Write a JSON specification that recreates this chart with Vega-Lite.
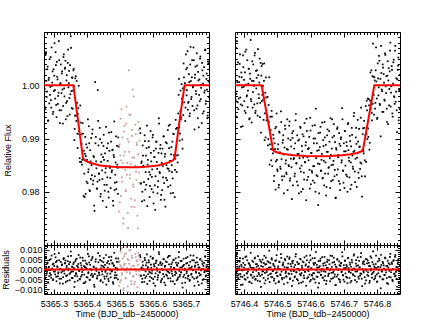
{
"$schema":"https://vega.github.io/schema/vega-lite/v6.json",
"autosize":{"type":"none"},
"padding":{"left":44,"top":32,"right":400,"bottom":295},
"config":{"view":{"stroke":"#000","strokeWidth":1},
"axis":{"domain":false,"grid":false,"tickColor":"#000","tickWidth":1,"labelFont":"Liberation Sans","labelFontSize":9,"labelColor":"#000","titleFont":"Liberation Sans","titleFontSize":9,"titleColor":"#000","titleFontWeight":"normal","labelFlush":false,"labelOverlap":false,"labelBound":false}},
"datasets":{
"LA":[
{"t":5365.271,"f":1.0023,"r":0.0023},{"t":5365.273,"f":0.9959,"r":-0.0041},{"t":5365.275,"f":1.0057,"r":0.0057},{"t":5365.277,"f":1.0008,"r":0.0008},{"t":5365.279,"f":0.9988,"r":-0.0012},{"t":5365.281,"f":1.0035,"r":0.0035},{"t":5365.283,"f":0.9934,"r":-0.0066},{"t":5365.285,"f":1.0014,"r":0.0014},{"t":5365.287,"f":1.0049,"r":0.0049},{"t":5365.289,"f":0.9997,"r":-0.0003},
{"t":5365.291,"f":0.9972,"r":-0.0028},{"t":5365.293,"f":1.0071,"r":0.0071},{"t":5365.295,"f":1.0005,"r":0.0005},{"t":5365.297,"f":0.9946,"r":-0.0054},{"t":5365.299,"f":1.003,"r":0.003},{"t":5365.301,"f":1.0018,"r":0.0018},{"t":5365.303,"f":0.9991,"r":-0.0009},{"t":5365.305,"f":1.0062,"r":0.0062},{"t":5365.307,"f":0.9963,"r":-0.0037},{"t":5365.309,"f":1.0044,"r":0.0044},
{"t":5365.311,"f":1.0011,"r":0.0011},{"t":5365.313,"f":0.998,"r":-0.002},{"t":5365.315,"f":1.0083,"r":0.0083},{"t":5365.317,"f":0.9953,"r":-0.0047},{"t":5365.319,"f":1.0002,"r":0.0002},{"t":5365.321,"f":1.0039,"r":0.0039},{"t":5365.323,"f":0.9985,"r":-0.0015},{"t":5365.325,"f":1.0026,"r":0.0026},{"t":5365.327,"f":0.9928,"r":-0.0072},{"t":5365.329,"f":1.0053,"r":0.0053},
{"t":5365.331,"f":0.9994,"r":-0.0006},{"t":5365.333,"f":1.0031,"r":0.0031},{"t":5365.335,"f":1.0046,"r":0.0046},{"t":5365.337,"f":0.9967,"r":-0.0033},{"t":5365.339,"f":1.0019,"r":0.0019},{"t":5365.341,"f":0.9942,"r":-0.0058},{"t":5365.343,"f":1.0067,"r":0.0067},{"t":5365.345,"f":1.0004,"r":0.0004},{"t":5365.347,"f":0.9976,"r":-0.0024},{"t":5365.349,"f":1.0038,"r":0.0038},
{"t":5365.351,"f":1.0092,"r":0.0092},{"t":5365.353,"f":0.9989,"r":-0.0011},{"t":5365.355,"f":1.0015,"r":0.0015},{"t":5365.357,"f":0.9956,"r":-0.0044},{"t":5365.359,"f":1.0028,"r":0.0028},{"t":5365.361,"f":0.9998,"r":0.0007},{"t":5365.363,"f":0.9918,"r":-0.0063},{"t":5365.365,"f":1.0013,"r":0.0041},{"t":5365.367,"f":0.9943,"r":-0.0019},{"t":5365.369,"f":1.0008,"r":0.0055},
{"t":5365.371,"f":0.9909,"r":-0.0035},{"t":5365.373,"f":0.9946,"r":0.0012},{"t":5365.375,"f":0.9999,"r":0.0074},{"t":5365.377,"f":0.9908,"r":-0.0008},{"t":5365.379,"f":0.9856,"r":-0.005},{"t":5365.381,"f":0.993,"r":0.0033},{"t":5365.383,"f":0.9908,"r":0.0021},{"t":5365.385,"f":0.9851,"r":-0.0027},{"t":5365.387,"f":0.9929,"r":0.006},{"t":5365.389,"f":0.9861,"r":-0.0002},
{"t":5365.391,"f":0.9877,"r":0.0017},{"t":5365.393,"f":0.979,"r":-0.0069},{"t":5365.395,"f":0.9903,"r":0.0045},{"t":5365.397,"f":0.9867,"r":0.0009},{"t":5365.399,"f":0.9819,"r":-0.0038},{"t":5365.401,"f":0.9883,"r":0.0026},{"t":5365.403,"f":0.9936,"r":0.008},{"t":5365.405,"f":0.9842,"r":-0.0014},{"t":5365.407,"f":0.9891,"r":0.0036},{"t":5365.409,"f":0.9801,"r":-0.0053},
{"t":5365.411,"f":0.9857,"r":0.0003},{"t":5365.413,"f":0.9901,"r":0.0048},{"t":5365.415,"f":0.9831,"r":-0.0022},{"t":5365.417,"f":0.9917,"r":0.0065},{"t":5365.419,"f":0.9821,"r":-0.0031},{"t":5365.421,"f":0.9865,"r":0.0013},{"t":5365.423,"f":0.9764,"r":-0.0088},{"t":5365.425,"f":1.0006,"r":0.0155},{"t":5365.427,"f":0.9903,"r":0.0052},{"t":5365.429,"f":0.9844,"r":-0.0007},
{"t":5365.431,"f":0.9806,"r":-0.0045},{"t":5365.433,"f":0.9991,"r":0.0141},{"t":5365.435,"f":0.9887,"r":0.0037},{"t":5365.437,"f":0.9834,"r":-0.0016},{"t":5365.439,"f":0.992,"r":0.007},{"t":5365.441,"f":0.9791,"r":-0.0059},{"t":5365.443,"f":0.9856,"r":0.0006},{"t":5365.445,"f":0.9892,"r":0.0043},{"t":5365.447,"f":0.9824,"r":-0.0025},{"t":5365.449,"f":0.9865,"r":0.0016},
{"t":5365.451,"f":0.9907,"r":0.0058},{"t":5365.453,"f":0.9813,"r":-0.0036},{"t":5365.455,"f":0.9872,"r":0.0024},{"t":5365.457,"f":0.9844,"r":-0.0004},{"t":5365.459,"f":0.9771,"r":-0.0077},{"t":5365.461,"f":0.9882,"r":0.0034},{"t":5365.463,"f":0.9858,"r":0.001},{"t":5365.465,"f":0.98,"r":-0.0048},{"t":5365.467,"f":0.9911,"r":0.0063},{"t":5365.469,"f":0.9848,"r":0.0001},
{"t":5365.471,"f":0.9826,"r":-0.0021},{"t":5365.473,"f":0.9894,"r":0.0047},{"t":5365.475,"f":0.9837,"r":-0.001},{"t":5365.477,"f":0.9878,"r":0.0031},{"t":5365.479,"f":0.9783,"r":-0.0064},{"t":5365.481,"f":0.9869,"r":0.0022},{"t":5365.483,"f":0.9932,"r":0.0085},{"t":5365.485,"f":0.9817,"r":-0.003},{"t":5365.487,"f":0.9855,"r":0.0008},{"t":5365.489,"f":0.9805,"r":-0.0042},
{"t":5365.491,"f":0.9886,"r":0.0039},{"t":5365.493,"f":0.9845,"r":-0.0001},{"t":5365.495,"f":0.9902,"r":0.0056},
{"t":5365.561,"f":0.9919,"r":0.0073},{"t":5365.563,"f":0.9815,"r":-0.0032},{"t":5365.565,"f":0.9854,"r":0.0007},{"t":5365.567,"f":0.9782,"r":-0.0065},{"t":5365.569,"f":0.9887,"r":0.004},{"t":5365.571,"f":0.9849,"r":0.0002},{"t":5365.573,"f":0.9818,"r":-0.0029},{"t":5365.575,"f":0.9906,"r":0.0059},{"t":5365.577,"f":0.9804,"r":-0.0043},{"t":5365.579,"f":0.9868,"r":0.0021},
{"t":5365.581,"f":0.9882,"r":0.0035},{"t":5365.583,"f":0.9773,"r":-0.0074},{"t":5365.585,"f":0.986,"r":0.0012},{"t":5365.587,"f":0.9895,"r":0.0047},{"t":5365.589,"f":0.9837,"r":-0.0011},{"t":5365.591,"f":0.9811,"r":-0.0037},{"t":5365.593,"f":0.9914,"r":0.0066},{"t":5365.595,"f":0.9857,"r":0.0009},{"t":5365.597,"f":0.9828,"r":-0.002},{"t":5365.599,"f":0.9902,"r":0.0054},
{"t":5365.601,"f":0.9799,"r":-0.0049},{"t":5365.603,"f":0.9877,"r":0.0028},{"t":5365.605,"f":0.9865,"r":0.0016},{"t":5365.607,"f":0.9766,"r":-0.0083},{"t":5365.609,"f":0.9881,"r":0.0032},{"t":5365.611,"f":0.9894,"r":0.0045},{"t":5365.613,"f":0.9843,"r":-0.0006},{"t":5365.615,"f":0.9809,"r":-0.004},{"t":5365.617,"f":0.9873,"r":0.0023},{"t":5365.619,"f":0.9928,"r":0.0078},
{"t":5365.621,"f":0.9835,"r":-0.0015},{"t":5365.623,"f":0.9888,"r":0.0038},{"t":5365.625,"f":0.9794,"r":-0.0056},{"t":5365.627,"f":0.9854,"r":0.0003},{"t":5365.629,"f":0.9881,"r":0.003},{"t":5365.631,"f":0.9827,"r":-0.0024},{"t":5365.633,"f":0.9904,"r":0.0052},{"t":5365.635,"f":0.9785,"r":-0.0067},{"t":5365.637,"f":0.9871,"r":0.0019},{"t":5365.639,"f":0.9893,"r":0.0041},
{"t":5365.641,"f":0.985,"r":-0.0003},{"t":5365.643,"f":0.9822,"r":-0.0031},{"t":5365.645,"f":0.9916,"r":0.0062},{"t":5365.647,"f":0.9843,"r":-0.0012},{"t":5365.649,"f":0.9882,"r":0.0026},{"t":5365.651,"f":0.9926,"r":0.007},{"t":5365.653,"f":0.9812,"r":-0.0045},{"t":5365.655,"f":0.987,"r":0.0013},{"t":5365.657,"f":0.985,"r":-0.0008},{"t":5365.659,"f":0.9894,"r":0.0036},
{"t":5365.661,"f":0.9798,"r":-0.0061},{"t":5365.663,"f":0.9908,"r":0.0048},{"t":5365.665,"f":0.9869,"r":0.0006},{"t":5365.667,"f":0.9841,"r":-0.0028},{"t":5365.669,"f":0.9935,"r":0.0057},{"t":5365.671,"f":0.9868,"r":-0.0019},{"t":5365.673,"f":0.992,"r":0.0024},{"t":5365.675,"f":0.9855,"r":-0.005},{"t":5365.677,"f":0.9947,"r":0.0033},{"t":5365.679,"f":1.0012,"r":0.0089},
{"t":5365.681,"f":0.9896,"r":-0.0036},{"t":5365.683,"f":0.9951,"r":0.001},{"t":5365.685,"f":0.9936,"r":-0.0014},{"t":5365.687,"f":1.0002,"r":0.0043},{"t":5365.689,"f":0.9898,"r":-0.007},{"t":5365.691,"f":0.9994,"r":0.0017},{"t":5365.693,"f":1.0041,"r":0.0055},{"t":5365.695,"f":0.9968,"r":-0.0027},{"t":5365.697,"f":1.0004,"r":0.0004},{"t":5365.699,"f":0.9958,"r":-0.0042},
{"t":5365.701,"f":1.003,"r":0.003},{"t":5365.703,"f":0.9991,"r":-0.0009},{"t":5365.705,"f":1.0064,"r":0.0064},{"t":5365.707,"f":0.9967,"r":-0.0033},{"t":5365.709,"f":1.0021,"r":0.0021},{"t":5365.711,"f":0.9942,"r":-0.0058},{"t":5365.713,"f":1.0039,"r":0.0039},{"t":5365.715,"f":1.0008,"r":0.0008},{"t":5365.717,"f":0.9978,"r":-0.0022},{"t":5365.719,"f":1.0047,"r":0.0047},
{"t":5365.721,"f":0.9996,"r":-0.0004},{"t":5365.723,"f":1.0071,"r":0.0071},{"t":5365.725,"f":0.9953,"r":-0.0047},{"t":5365.727,"f":1.0014,"r":0.0014},{"t":5365.729,"f":1.0035,"r":0.0035},{"t":5365.731,"f":0.9984,"r":-0.0016},{"t":5365.733,"f":1.006,"r":0.006},{"t":5365.735,"f":0.9962,"r":-0.0038},{"t":5365.737,"f":1.0025,"r":0.0025},{"t":5365.739,"f":0.9921,"r":-0.0079},
{"t":5365.741,"f":1.0011,"r":0.0011},{"t":5365.743,"f":1.005,"r":0.005},{"t":5365.745,"f":0.9974,"r":-0.0026},{"t":5365.747,"f":1.0001,"r":0.0001},{"t":5365.749,"f":1.0042,"r":0.0042},{"t":5365.751,"f":0.9947,"r":-0.0053},{"t":5365.753,"f":1.0018,"r":0.0018},{"t":5365.755,"f":1.0034,"r":0.0034},{"t":5365.757,"f":0.999,"r":-0.001},{"t":5365.759,"f":1.0067,"r":0.0067},
{"t":5365.761,"f":0.997,"r":-0.003},{"t":5365.763,"f":1.0022,"r":0.0022},{"t":5365.765,"f":0.9938,"r":-0.0062},{"t":5365.767,"f":1.0045,"r":0.0045},{"t":5365.769,"f":1.0007,"r":0.0007}
],
"LB":[
{"t":5365.272,"f":0.9993,"r":-0.0007},{"t":5365.274,"f":0.9955,"r":-0.0045},{"t":5365.276,"f":1.0062,"r":0.0062},{"t":5365.278,"f":0.9978,"r":-0.0022},{"t":5365.28,"f":1.003,"r":0.003},{"t":5365.282,"f":0.9933,"r":-0.0067},{"t":5365.284,"f":1.001,"r":0.001},{"t":5365.286,"f":0.9966,"r":-0.0034},{"t":5365.288,"f":0.9982,"r":-0.0018},{"t":5365.29,"f":1.0053,"r":0.0053},
{"t":5365.292,"f":0.9958,"r":-0.0042},{"t":5365.294,"f":0.9999,"r":-0.0001},{"t":5365.296,"f":1.0026,"r":0.0026},{"t":5365.298,"f":0.995,"r":-0.005},{"t":5365.3,"f":0.9989,"r":-0.0011},{"t":5365.302,"f":1.0079,"r":0.0079},{"t":5365.304,"f":0.9975,"r":-0.0025},{"t":5365.306,"f":1.0038,"r":0.0038},{"t":5365.308,"f":0.994,"r":-0.006},{"t":5365.31,"f":1.0016,"r":0.0016},
{"t":5365.312,"f":0.9965,"r":-0.0035},{"t":5365.314,"f":0.9986,"r":-0.0014},{"t":5365.316,"f":1.0047,"r":0.0047},{"t":5365.318,"f":0.9929,"r":-0.0071},{"t":5365.32,"f":1.0004,"r":0.0004},{"t":5365.322,"f":0.9953,"r":-0.0047},{"t":5365.324,"f":1.0022,"r":0.0022},{"t":5365.326,"f":0.9992,"r":-0.0008},{"t":5365.328,"f":0.9961,"r":-0.0039},{"t":5365.33,"f":1.0058,"r":0.0058},
{"t":5365.332,"f":0.9979,"r":-0.0021},{"t":5365.334,"f":1.0033,"r":0.0033},{"t":5365.336,"f":0.9936,"r":-0.0064},{"t":5365.338,"f":1.0009,"r":0.0009},{"t":5365.34,"f":0.997,"r":-0.003},{"t":5365.342,"f":1.0042,"r":0.0042},{"t":5365.344,"f":0.9996,"r":-0.0004},{"t":5365.346,"f":1.0027,"r":0.0027},{"t":5365.348,"f":0.9945,"r":-0.0055},{"t":5365.35,"f":0.9983,"r":-0.0017},
{"t":5365.352,"f":1.007,"r":0.007},{"t":5365.354,"f":0.9957,"r":-0.0043},{"t":5365.356,"f":1.0014,"r":0.0014},{"t":5365.358,"f":0.999,"r":-0.001},{"t":5365.36,"f":1.0031,"r":0.0036},{"t":5365.362,"f":0.9897,"r":-0.0089},{"t":5365.364,"f":0.9943,"r":-0.0033},{"t":5365.366,"f":1.0017,"r":0.005},{"t":5365.368,"f":0.9933,"r":-0.0024},{"t":5365.37,"f":0.9967,"r":0.0019},
{"t":5365.372,"f":0.9882,"r":-0.0057},{"t":5365.374,"f":0.9957,"r":0.0028},{"t":5365.376,"f":0.9914,"r":-0.0006},{"t":5365.378,"f":0.9863,"r":-0.0048},{"t":5365.38,"f":0.9962,"r":0.0061},{"t":5365.382,"f":0.9856,"r":-0.0036},{"t":5365.384,"f":0.989,"r":0.0008},{"t":5365.386,"f":0.986,"r":-0.0013},{"t":5365.388,"f":0.9909,"r":0.0045},{"t":5365.39,"f":0.9792,"r":-0.007},
{"t":5365.392,"f":0.9834,"r":-0.0026},{"t":5365.394,"f":0.9871,"r":0.0012},{"t":5365.396,"f":0.9796,"r":-0.0062},{"t":5365.398,"f":0.9889,"r":0.0031},{"t":5365.4,"f":0.986,"r":0.0003},{"t":5365.402,"f":0.9816,"r":-0.0041},{"t":5365.404,"f":0.9837,"r":-0.0019},{"t":5365.406,"f":0.9923,"r":0.0067},{"t":5365.408,"f":0.9803,"r":-0.0052},{"t":5365.41,"f":0.9878,"r":0.0024},
{"t":5365.412,"f":0.9824,"r":-0.003},{"t":5365.414,"f":0.985,"r":-0.0003},{"t":5365.416,"f":0.9909,"r":0.0056},{"t":5365.418,"f":0.9814,"r":-0.0038},{"t":5365.42,"f":0.9867,"r":0.0015},{"t":5365.422,"f":0.9774,"r":-0.0078},{"t":5365.424,"f":0.9829,"r":-0.0023},{"t":5365.426,"f":0.9891,"r":0.004},{"t":5365.428,"f":0.9857,"r":0.0006},{"t":5365.43,"f":0.9806,"r":-0.0045},
{"t":5365.432,"f":0.9819,"r":-0.0032},{"t":5365.434,"f":0.9933,"r":0.0083},{"t":5365.436,"f":0.9834,"r":-0.0016},{"t":5365.438,"f":0.9822,"r":-0.0028},{"t":5365.44,"f":0.9899,"r":0.0049},{"t":5365.442,"f":0.9796,"r":-0.0054},{"t":5365.444,"f":0.987,"r":0.002},{"t":5365.446,"f":0.984,"r":-0.0009},{"t":5365.448,"f":0.9783,"r":-0.0066},{"t":5365.45,"f":0.9886,"r":0.0037},
{"t":5365.452,"f":0.986,"r":0.0011},{"t":5365.454,"f":0.9802,"r":-0.0047},{"t":5365.456,"f":0.9836,"r":-0.0012},{"t":5365.458,"f":0.9922,"r":0.0074},{"t":5365.46,"f":0.9813,"r":-0.0035},{"t":5365.462,"f":0.9827,"r":-0.0021},{"t":5365.464,"f":0.9891,"r":0.0043},{"t":5365.466,"f":0.9789,"r":-0.0059},{"t":5365.468,"f":0.9877,"r":0.0029},{"t":5365.47,"f":0.9845,"r":-0.0002},
{"t":5365.472,"f":0.9807,"r":-0.004},{"t":5365.474,"f":0.9912,"r":0.0065},{"t":5365.476,"f":0.984,"r":-0.0007},{"t":5365.478,"f":0.9879,"r":0.0032},{"t":5365.48,"f":0.9774,"r":-0.0073},{"t":5365.482,"f":0.9865,"r":0.0018},{"t":5365.484,"f":0.9803,"r":-0.0044},{"t":5365.486,"f":0.9832,"r":-0.0015},{"t":5365.488,"f":0.9904,"r":0.0057},{"t":5365.49,"f":0.9818,"r":-0.0029},
{"t":5365.492,"f":0.9851,"r":0.0005},{"t":5365.494,"f":0.9796,"r":-0.005},{"t":5365.496,"f":0.9885,"r":0.0039},
{"t":5365.562,"f":0.991,"r":0.0064},{"t":5365.564,"f":0.9816,"r":-0.0031},{"t":5365.566,"f":0.9857,"r":0.001},{"t":5365.568,"f":0.98,"r":-0.0047},{"t":5365.57,"f":0.9868,"r":0.0021},{"t":5365.572,"f":0.9846,"r":-0.0001},{"t":5365.574,"f":0.9784,"r":-0.0063},{"t":5365.576,"f":0.9895,"r":0.0048},{"t":5365.578,"f":0.9837,"r":-0.001},{"t":5365.58,"f":0.9813,"r":-0.0034},
{"t":5365.582,"f":0.9924,"r":0.0077},{"t":5365.584,"f":0.9851,"r":0.0004},{"t":5365.586,"f":0.9824,"r":-0.0024},{"t":5365.588,"f":0.9884,"r":0.0036},{"t":5365.59,"f":0.979,"r":-0.0058},{"t":5365.592,"f":0.9832,"r":-0.0016},{"t":5365.594,"f":0.9873,"r":0.0025},{"t":5365.596,"f":0.9805,"r":-0.0043},{"t":5365.598,"f":0.9842,"r":-0.0006},{"t":5365.6,"f":0.9907,"r":0.0059},
{"t":5365.602,"f":0.9778,"r":-0.007},{"t":5365.604,"f":0.9865,"r":0.0016},{"t":5365.606,"f":0.9812,"r":-0.0037},{"t":5365.608,"f":0.9829,"r":-0.002},{"t":5365.61,"f":0.9894,"r":0.0045},{"t":5365.612,"f":0.9856,"r":0.0007},{"t":5365.614,"f":0.9797,"r":-0.0052},{"t":5365.616,"f":0.982,"r":-0.0029},{"t":5365.618,"f":0.9938,"r":0.0088},{"t":5365.62,"f":0.9837,"r":-0.0013},
{"t":5365.622,"f":0.9881,"r":0.0031},{"t":5365.624,"f":0.9785,"r":-0.0065},{"t":5365.626,"f":0.9872,"r":0.0022},{"t":5365.628,"f":0.9803,"r":-0.0048},{"t":5365.63,"f":0.9848,"r":-0.0003},{"t":5365.632,"f":0.9904,"r":0.0053},{"t":5365.634,"f":0.9816,"r":-0.0036},{"t":5365.636,"f":0.9866,"r":0.0014},{"t":5365.638,"f":0.9772,"r":-0.008},{"t":5365.64,"f":0.9826,"r":-0.0026},
{"t":5365.642,"f":0.9891,"r":0.0038},{"t":5365.644,"f":0.9844,"r":-0.0009},{"t":5365.646,"f":0.9809,"r":-0.0045},{"t":5365.648,"f":0.9924,"r":0.0069},{"t":5365.65,"f":0.9839,"r":-0.0017},{"t":5365.652,"f":0.9858,"r":0.0002},{"t":5365.654,"f":0.9797,"r":-0.006},{"t":5365.656,"f":0.9884,"r":0.0027},{"t":5365.658,"f":0.9837,"r":-0.0021},{"t":5365.66,"f":0.9825,"r":-0.0033},
{"t":5365.662,"f":0.9909,"r":0.005},{"t":5365.664,"f":0.9868,"r":0.0008},{"t":5365.666,"f":0.979,"r":-0.0074},{"t":5365.668,"f":0.9862,"r":-0.0012},{"t":5365.67,"f":0.9918,"r":0.0035},{"t":5365.672,"f":0.9837,"r":-0.0055},{"t":5365.674,"f":0.992,"r":0.0019},{"t":5365.676,"f":0.9869,"r":-0.0041},{"t":5365.678,"f":0.9982,"r":0.0063},{"t":5365.68,"f":0.9921,"r":-0.0007},
{"t":5365.682,"f":0.9909,"r":-0.0028},{"t":5365.684,"f":0.999,"r":0.0044},{"t":5365.686,"f":0.994,"r":-0.0015},{"t":5365.688,"f":0.9975,"r":0.0011},{"t":5365.69,"f":0.9881,"r":-0.0092},{"t":5365.692,"f":0.9944,"r":-0.0038},{"t":5365.694,"f":1.0015,"r":0.0024},{"t":5365.696,"f":0.9996,"r":-0.0004},{"t":5365.698,"f":0.9933,"r":-0.0067},{"t":5365.7,"f":1.0058,"r":0.0058},
{"t":5365.702,"f":0.9981,"r":-0.0019},{"t":5365.704,"f":1.0033,"r":0.0033},{"t":5365.706,"f":0.9954,"r":-0.0046},{"t":5365.708,"f":0.9969,"r":-0.0031},{"t":5365.71,"f":1.0006,"r":0.0006},{"t":5365.712,"f":0.9947,"r":-0.0053},{"t":5365.714,"f":1.0072,"r":0.0072},{"t":5365.716,"f":0.9974,"r":-0.0026},{"t":5365.718,"f":1.0015,"r":0.0015},{"t":5365.72,"f":0.9961,"r":-0.0039},
{"t":5365.722,"f":0.9998,"r":-0.0002},{"t":5365.724,"f":1.0047,"r":0.0047},{"t":5365.726,"f":0.9917,"r":-0.0083},{"t":5365.728,"f":1.002,"r":0.002},{"t":5365.73,"f":0.9989,"r":-0.0011},{"t":5365.732,"f":0.9956,"r":-0.0044},{"t":5365.734,"f":1.0037,"r":0.0037},{"t":5365.736,"f":0.9938,"r":-0.0062},{"t":5365.738,"f":1.0009,"r":0.0009},{"t":5365.74,"f":0.9982,"r":-0.0018},
{"t":5365.742,"f":0.997,"r":-0.003},{"t":5365.744,"f":1.0054,"r":0.0054},{"t":5365.746,"f":0.9995,"r":-0.0005},{"t":5365.748,"f":0.9929,"r":-0.0071},{"t":5365.75,"f":1.0028,"r":0.0028},{"t":5365.752,"f":1.0003,"r":0.0003},{"t":5365.754,"f":0.9951,"r":-0.0049},{"t":5365.756,"f":0.9986,"r":-0.0014},{"t":5365.758,"f":1.0066,"r":0.0066},{"t":5365.76,"f":0.9965,"r":-0.0035},
{"t":5365.762,"f":1.0012,"r":0.0012},{"t":5365.764,"f":0.9992,"r":-0.0008},{"t":5365.766,"f":0.9943,"r":-0.0057},{"t":5365.768,"f":1.0041,"r":0.0041},{"t":5365.77,"f":0.9977,"r":-0.0023}
],
"LX":[
{"t":5365.497,"f":0.9763,"r":-0.0083},{"t":5365.499,"f":0.9889,"r":0.0043},{"t":5365.501,"f":0.9868,"r":0.0022},{"t":5365.503,"f":0.9792,"r":-0.0054},{"t":5365.505,"f":0.9955,"r":0.0109},{"t":5365.507,"f":0.9819,"r":-0.0027},{"t":5365.509,"f":0.9854,"r":0.0008},{"t":5365.511,"f":0.975,"r":-0.0096},{"t":5365.513,"f":0.9913,"r":0.0067},{"t":5365.515,"f":0.9875,"r":0.0029},
{"t":5365.517,"f":0.9804,"r":-0.0042},{"t":5365.519,"f":0.9928,"r":0.0082},{"t":5365.521,"f":0.9832,"r":-0.0014},{"t":5365.523,"f":0.9899,"r":0.0053},{"t":5365.525,"f":0.9732,"r":-0.0114},{"t":5365.527,"f":1.0028,"r":0.0182},{"t":5365.529,"f":0.9944,"r":0.0098},{"t":5365.531,"f":0.9825,"r":-0.0021},{"t":5365.533,"f":0.9852,"r":0.0006},{"t":5365.535,"f":0.9772,"r":-0.0074},
{"t":5365.537,"f":0.9905,"r":0.0059},{"t":5365.539,"f":0.9992,"r":0.0146},{"t":5365.541,"f":0.9809,"r":-0.0037},{"t":5365.543,"f":0.9864,"r":0.0018},{"t":5365.545,"f":0.9784,"r":-0.0062},{"t":5365.547,"f":0.9926,"r":0.008},{"t":5365.549,"f":0.9838,"r":-0.0008},{"t":5365.551,"f":0.9892,"r":0.0046},{"t":5365.553,"f":0.9755,"r":-0.0091},{"t":5365.555,"f":0.987,"r":0.0024},
{"t":5365.557,"f":0.9916,"r":0.007},{"t":5365.559,"f":0.9817,"r":-0.0029},
{"t":5365.498,"f":0.9883,"r":0.0037},{"t":5365.5,"f":0.978,"r":-0.0066},{"t":5365.502,"f":0.9937,"r":0.0091},{"t":5365.504,"f":0.9859,"r":0.0013},{"t":5365.506,"f":0.9827,"r":-0.0019},{"t":5365.508,"f":0.9902,"r":0.0056},{"t":5365.51,"f":0.974,"r":-0.0106},{"t":5365.512,"f":0.9868,"r":0.0022},{"t":5365.514,"f":0.9924,"r":0.0078},{"t":5365.516,"f":0.9841,"r":-0.0005},
{"t":5365.518,"f":0.9801,"r":-0.0045},{"t":5365.52,"f":0.996,"r":0.0114},{"t":5365.522,"f":0.9854,"r":0.0008},{"t":5365.524,"f":0.976,"r":-0.0086},{"t":5365.526,"f":0.9894,"r":0.0048},{"t":5365.528,"f":0.9875,"r":0.0029},{"t":5365.53,"f":0.9832,"r":-0.0014},{"t":5365.532,"f":0.9945,"r":0.0099},{"t":5365.534,"f":0.9787,"r":-0.0059},{"t":5365.536,"f":0.9916,"r":0.007},
{"t":5365.538,"f":0.9864,"r":0.0018},{"t":5365.54,"f":0.9814,"r":-0.0032},{"t":5365.542,"f":0.9979,"r":0.0133},{"t":5365.544,"f":0.9771,"r":-0.0075},{"t":5365.546,"f":0.9849,"r":0.0003},{"t":5365.548,"f":0.9908,"r":0.0062},{"t":5365.55,"f":0.9822,"r":-0.0024},{"t":5365.552,"f":0.9888,"r":0.0042},{"t":5365.554,"f":0.9731,"r":-0.0115},{"t":5365.556,"f":0.9931,"r":0.0085},
{"t":5365.558,"f":0.9836,"r":-0.001},{"t":5365.56,"f":0.9896,"r":0.005}
],
"RA":[
{"t":5746.374,"f":0.9984,"r":-0.0016},{"t":5746.376,"f":1.007,"r":0.007},{"t":5746.378,"f":0.9941,"r":-0.0059},{"t":5746.38,"f":1.0006,"r":0.0006},{"t":5746.382,"f":1.0043,"r":0.0043},{"t":5746.384,"f":0.9975,"r":-0.0025},{"t":5746.386,"f":1.0016,"r":0.0016},{"t":5746.388,"f":1.0058,"r":0.0058},{"t":5746.39,"f":0.9964,"r":-0.0036},{"t":5746.392,"f":1.0024,"r":0.0024},
{"t":5746.394,"f":0.9996,"r":-0.0004},{"t":5746.396,"f":0.9923,"r":-0.0077},{"t":5746.398,"f":1.0034,"r":0.0034},{"t":5746.4,"f":1.001,"r":0.001},{"t":5746.402,"f":0.9952,"r":-0.0048},{"t":5746.404,"f":1.0063,"r":0.0063},{"t":5746.406,"f":1.0001,"r":0.0001},{"t":5746.408,"f":0.9979,"r":-0.0021},{"t":5746.41,"f":1.0047,"r":0.0047},{"t":5746.412,"f":0.999,"r":-0.001},
{"t":5746.414,"f":1.0031,"r":0.0031},{"t":5746.416,"f":0.9936,"r":-0.0064},{"t":5746.418,"f":1.0022,"r":0.0022},{"t":5746.42,"f":1.0085,"r":0.0085},{"t":5746.422,"f":0.997,"r":-0.003},{"t":5746.424,"f":1.0008,"r":0.0008},{"t":5746.426,"f":0.9958,"r":-0.0042},{"t":5746.428,"f":1.0039,"r":0.0039},{"t":5746.43,"f":0.9999,"r":-0.0001},{"t":5746.432,"f":1.0056,"r":0.0056},
{"t":5746.434,"f":0.9948,"r":-0.0052},{"t":5746.436,"f":1.0027,"r":0.0027},{"t":5746.438,"f":1.0014,"r":0.0014},{"t":5746.44,"f":0.9966,"r":-0.0034},{"t":5746.442,"f":1.0068,"r":0.0068},{"t":5746.444,"f":0.9983,"r":-0.0017},{"t":5746.446,"f":1.0005,"r":0.0005},{"t":5746.448,"f":0.994,"r":-0.006},{"t":5746.45,"f":1.0042,"r":0.0042},{"t":5746.452,"f":1.0018,"r":0.0018},
{"t":5746.454,"f":0.997,"r":-0.0026},{"t":5746.456,"f":1.004,"r":0.0051},{"t":5746.458,"f":0.9973,"r":-0.0009},{"t":5746.46,"f":1.0008,"r":0.0033},{"t":5746.462,"f":0.9897,"r":-0.0071},{"t":5746.464,"f":0.9986,"r":0.0025},{"t":5746.466,"f":1.0015,"r":0.0061},{"t":5746.468,"f":0.9934,"r":-0.0013},{"t":5746.47,"f":0.9944,"r":0.0004},{"t":5746.472,"f":0.9887,"r":-0.0046},
{"t":5746.474,"f":0.9963,"r":0.0037},{"t":5746.476,"f":1.0015,"r":0.0096},{"t":5746.478,"f":0.9889,"r":-0.0023},{"t":5746.48,"f":0.9916,"r":0.0011},{"t":5746.482,"f":0.9859,"r":-0.0039},{"t":5746.484,"f":0.9941,"r":0.005},{"t":5746.486,"f":0.9879,"r":-0.0005},{"t":5746.488,"f":0.9907,"r":0.0029},{"t":5746.49,"f":0.982,"r":-0.0057},{"t":5746.492,"f":0.9891,"r":0.0015},
{"t":5746.494,"f":0.9919,"r":0.0044},{"t":5746.496,"f":0.9857,"r":-0.0018},{"t":5746.498,"f":0.9947,"r":0.0073},{"t":5746.5,"f":0.9842,"r":-0.0032},{"t":5746.502,"f":0.988,"r":0.0007},{"t":5746.504,"f":0.9808,"r":-0.0065},{"t":5746.506,"f":0.9913,"r":0.004},{"t":5746.508,"f":0.9874,"r":0.0002},{"t":5746.51,"f":0.9843,"r":-0.0029},{"t":5746.512,"f":0.9931,"r":0.0059},
{"t":5746.514,"f":0.9829,"r":-0.0043},{"t":5746.516,"f":0.9892,"r":0.0021},{"t":5746.518,"f":0.9906,"r":0.0035},{"t":5746.52,"f":0.9797,"r":-0.0074},{"t":5746.522,"f":0.9883,"r":0.0012},{"t":5746.524,"f":0.9918,"r":0.0047},{"t":5746.526,"f":0.9859,"r":-0.0011},{"t":5746.528,"f":0.9833,"r":-0.0037},{"t":5746.53,"f":0.9936,"r":0.0066},{"t":5746.532,"f":0.9879,"r":0.0009},
{"t":5746.534,"f":0.985,"r":-0.002},{"t":5746.536,"f":0.9924,"r":0.0054},{"t":5746.538,"f":0.9821,"r":-0.0049},{"t":5746.54,"f":0.9897,"r":0.0028},{"t":5746.542,"f":0.9885,"r":0.0016},{"t":5746.544,"f":0.9786,"r":-0.0083},{"t":5746.546,"f":0.9901,"r":0.0032},{"t":5746.548,"f":0.9914,"r":0.0045},{"t":5746.55,"f":0.9863,"r":-0.0006},{"t":5746.552,"f":0.9829,"r":-0.004},
{"t":5746.554,"f":0.9891,"r":0.0023},{"t":5746.556,"f":0.9946,"r":0.0078},{"t":5746.558,"f":0.9853,"r":-0.0015},{"t":5746.56,"f":0.9906,"r":0.0038},{"t":5746.562,"f":0.9812,"r":-0.0056},{"t":5746.564,"f":0.9871,"r":0.0003},{"t":5746.566,"f":0.9898,"r":0.003},{"t":5746.568,"f":0.9844,"r":-0.0024},{"t":5746.57,"f":0.992,"r":0.0052},{"t":5746.572,"f":0.98,"r":-0.0067},
{"t":5746.574,"f":0.9886,"r":0.0019},{"t":5746.576,"f":0.9908,"r":0.0041},{"t":5746.578,"f":0.9864,"r":-0.0003},{"t":5746.58,"f":0.9836,"r":-0.0031},{"t":5746.582,"f":0.9929,"r":0.0062},{"t":5746.584,"f":0.9855,"r":-0.0012},{"t":5746.586,"f":0.9893,"r":0.0026},{"t":5746.588,"f":0.9937,"r":0.007},{"t":5746.59,"f":0.9822,"r":-0.0045},{"t":5746.592,"f":0.988,"r":0.0013},
{"t":5746.594,"f":0.9859,"r":-0.0008},{"t":5746.596,"f":0.9903,"r":0.0036},{"t":5746.598,"f":0.9806,"r":-0.0061},{"t":5746.6,"f":0.9915,"r":0.0048},{"t":5746.602,"f":0.9873,"r":0.0006},{"t":5746.604,"f":0.9839,"r":-0.0028},{"t":5746.606,"f":0.9924,"r":0.0057},{"t":5746.608,"f":0.9848,"r":-0.0019},{"t":5746.61,"f":0.9891,"r":0.0024},{"t":5746.612,"f":0.9817,"r":-0.005},
{"t":5746.614,"f":0.99,"r":0.0033},{"t":5746.616,"f":0.9956,"r":0.0089},{"t":5746.618,"f":0.9831,"r":-0.0036},{"t":5746.62,"f":0.9877,"r":0.001},{"t":5746.622,"f":0.9853,"r":-0.0014},{"t":5746.624,"f":0.991,"r":0.0043},{"t":5746.626,"f":0.9797,"r":-0.007},{"t":5746.628,"f":0.9884,"r":0.0017},{"t":5746.63,"f":0.9922,"r":0.0055},{"t":5746.632,"f":0.984,"r":-0.0027},
{"t":5746.634,"f":0.9871,"r":0.0004},{"t":5746.636,"f":0.9825,"r":-0.0042},{"t":5746.638,"f":0.9897,"r":0.003},{"t":5746.64,"f":0.9858,"r":-0.0009},{"t":5746.642,"f":0.9931,"r":0.0064},{"t":5746.644,"f":0.9834,"r":-0.0033},{"t":5746.646,"f":0.9888,"r":0.0021},{"t":5746.648,"f":0.9809,"r":-0.0058},{"t":5746.65,"f":0.9906,"r":0.0039},{"t":5746.652,"f":0.9875,"r":0.0008},
{"t":5746.654,"f":0.9845,"r":-0.0022},{"t":5746.656,"f":0.9914,"r":0.0047},{"t":5746.658,"f":0.9863,"r":-0.0004},{"t":5746.66,"f":0.9938,"r":0.0071},{"t":5746.662,"f":0.982,"r":-0.0047},{"t":5746.664,"f":0.9881,"r":0.0014},{"t":5746.666,"f":0.9902,"r":0.0035},{"t":5746.668,"f":0.9851,"r":-0.0016},{"t":5746.67,"f":0.9927,"r":0.006},{"t":5746.672,"f":0.9829,"r":-0.0038},
{"t":5746.674,"f":0.9893,"r":0.0025},{"t":5746.676,"f":0.9789,"r":-0.0079},{"t":5746.678,"f":0.9879,"r":0.0011},{"t":5746.68,"f":0.9918,"r":0.005},{"t":5746.682,"f":0.9842,"r":-0.0026},{"t":5746.684,"f":0.9869,"r":0.0001},{"t":5746.686,"f":0.991,"r":0.0042},{"t":5746.688,"f":0.9815,"r":-0.0053},{"t":5746.69,"f":0.9886,"r":0.0018},{"t":5746.692,"f":0.9902,"r":0.0034},
{"t":5746.694,"f":0.9859,"r":-0.001},{"t":5746.696,"f":0.9936,"r":0.0067},{"t":5746.698,"f":0.9839,"r":-0.003},{"t":5746.7,"f":0.9891,"r":0.0022},{"t":5746.702,"f":0.9807,"r":-0.0062},{"t":5746.704,"f":0.9914,"r":0.0045},{"t":5746.706,"f":0.9876,"r":0.0007},{"t":5746.708,"f":0.9893,"r":0.0023},{"t":5746.71,"f":0.9829,"r":-0.0041},{"t":5746.712,"f":0.9927,"r":0.0057},
{"t":5746.714,"f":0.9878,"r":0.0008},{"t":5746.716,"f":0.9858,"r":-0.0012},{"t":5746.718,"f":0.9905,"r":0.0035},{"t":5746.72,"f":0.9805,"r":-0.0066},{"t":5746.722,"f":0.9885,"r":0.0014},{"t":5746.724,"f":0.992,"r":0.0049},{"t":5746.726,"f":0.9868,"r":-0.0003},{"t":5746.728,"f":0.9843,"r":-0.0028},{"t":5746.73,"f":0.9942,"r":0.0071},{"t":5746.732,"f":0.9877,"r":0.0005},
{"t":5746.734,"f":0.9818,"r":-0.0054},{"t":5746.736,"f":0.9902,"r":0.003},{"t":5746.738,"f":0.989,"r":0.0018},{"t":5746.74,"f":0.9864,"r":-0.0009},{"t":5746.742,"f":0.9935,"r":0.0062},{"t":5746.744,"f":0.9836,"r":-0.0037},{"t":5746.746,"f":0.9918,"r":0.0044},{"t":5746.748,"f":0.9885,"r":0.0011},{"t":5746.75,"f":0.9855,"r":-0.002},{"t":5746.752,"f":0.9958,"r":0.0083},
{"t":5746.754,"f":0.9829,"r":-0.0047},{"t":5746.756,"f":0.9879,"r":0.0002},{"t":5746.758,"f":0.9919,"r":0.0039},{"t":5746.76,"f":0.9872,"r":-0.0015},{"t":5746.762,"f":0.992,"r":0.0026},{"t":5746.764,"f":0.9829,"r":-0.0072},{"t":5746.766,"f":0.9961,"r":0.0053},{"t":5746.768,"f":0.9909,"r":-0.0006},{"t":5746.77,"f":0.9953,"r":0.0031},{"t":5746.772,"f":0.9975,"r":0.0046},
{"t":5746.774,"f":0.9903,"r":-0.0033},{"t":5746.776,"f":0.9962,"r":0.0019},{"t":5746.778,"f":0.9892,"r":-0.0058},{"t":5746.78,"f":1.0024,"r":0.0067},{"t":5746.782,"f":0.9968,"r":0.0004},{"t":5746.784,"f":0.9948,"r":-0.0024},{"t":5746.786,"f":1.0017,"r":0.0038},{"t":5746.788,"f":1.0078,"r":0.0092},{"t":5746.79,"f":0.9982,"r":-0.0011},{"t":5746.792,"f":1.0015,"r":0.0015},
{"t":5746.794,"f":0.9956,"r":-0.0044},{"t":5746.796,"f":1.0028,"r":0.0028},{"t":5746.798,"f":1.0007,"r":0.0007},{"t":5746.8,"f":0.9937,"r":-0.0063},{"t":5746.802,"f":1.0041,"r":0.0041},{"t":5746.804,"f":0.9981,"r":-0.0019},{"t":5746.806,"f":1.0055,"r":0.0055},{"t":5746.808,"f":0.9965,"r":-0.0035},{"t":5746.81,"f":1.0012,"r":0.0012},{"t":5746.812,"f":1.0074,"r":0.0074},
{"t":5746.814,"f":0.9992,"r":-0.0008},{"t":5746.816,"f":0.995,"r":-0.005},{"t":5746.818,"f":1.0033,"r":0.0033},{"t":5746.82,"f":1.0021,"r":0.0021},{"t":5746.822,"f":0.9973,"r":-0.0027},{"t":5746.824,"f":1.006,"r":0.006},{"t":5746.826,"f":0.9998,"r":-0.0002},{"t":5746.828,"f":1.0017,"r":0.0017},{"t":5746.83,"f":0.9931,"r":-0.0069},{"t":5746.832,"f":1.0045,"r":0.0045},
{"t":5746.834,"f":1.0009,"r":0.0009},{"t":5746.836,"f":0.9962,"r":-0.0038},{"t":5746.838,"f":1.0026,"r":0.0026},{"t":5746.84,"f":1.008,"r":0.008},{"t":5746.842,"f":0.9986,"r":-0.0014},{"t":5746.844,"f":1.0036,"r":0.0036},{"t":5746.846,"f":0.9947,"r":-0.0053},{"t":5746.848,"f":1.0003,"r":0.0003},{"t":5746.85,"f":1.0048,"r":0.0048},{"t":5746.852,"f":0.9978,"r":-0.0022},
{"t":5746.854,"f":1.0065,"r":0.0065},{"t":5746.856,"f":0.9969,"r":-0.0031},{"t":5746.858,"f":1.0013,"r":0.0013},{"t":5746.86,"f":0.9912,"r":-0.0088},{"t":5746.862,"f":1.0029,"r":0.0029},{"t":5746.864,"f":1.0052,"r":0.0052},{"t":5746.866,"f":0.9993,"r":-0.0007},{"t":5746.868,"f":0.9955,"r":-0.0045}
],
"RB":[
{"t":5746.375,"f":0.9972,"r":-0.0028},{"t":5746.377,"f":0.9984,"r":-0.0016},{"t":5746.379,"f":1.0083,"r":0.0083},{"t":5746.381,"f":0.9968,"r":-0.0032},{"t":5746.383,"f":0.9955,"r":-0.0045},{"t":5746.385,"f":1.0006,"r":0.0006},{"t":5746.387,"f":1.004,"r":0.004},{"t":5746.389,"f":0.9977,"r":-0.0023},{"t":5746.391,"f":0.9922,"r":-0.0078},{"t":5746.393,"f":1.0015,"r":0.0015},
{"t":5746.395,"f":0.9962,"r":-0.0038},{"t":5746.397,"f":1.0056,"r":0.0056},{"t":5746.399,"f":0.9997,"r":-0.0003},{"t":5746.401,"f":0.997,"r":-0.003},{"t":5746.403,"f":1.0024,"r":0.0024},{"t":5746.405,"f":0.9948,"r":-0.0052},{"t":5746.407,"f":1.0067,"r":0.0067},{"t":5746.409,"f":0.9981,"r":-0.0019},{"t":5746.411,"f":0.9959,"r":-0.0041},{"t":5746.413,"f":1.0003,"r":0.0003},
{"t":5746.415,"f":1.0031,"r":0.0031},{"t":5746.417,"f":0.9938,"r":-0.0062},{"t":5746.419,"f":1.0012,"r":0.0012},{"t":5746.421,"f":0.9974,"r":-0.0026},{"t":5746.423,"f":0.993,"r":-0.007},{"t":5746.425,"f":1.0045,"r":0.0045},{"t":5746.427,"f":0.9987,"r":-0.0013},{"t":5746.429,"f":1.0008,"r":0.0008},{"t":5746.431,"f":0.9964,"r":-0.0036},{"t":5746.433,"f":1.0061,"r":0.0061},
{"t":5746.435,"f":0.9952,"r":-0.0048},{"t":5746.437,"f":0.9994,"r":-0.0006},{"t":5746.439,"f":1.0028,"r":0.0028},{"t":5746.441,"f":0.9943,"r":-0.0057},{"t":5746.443,"f":1.0019,"r":0.0019},{"t":5746.445,"f":0.9976,"r":-0.0024},{"t":5746.447,"f":1.005,"r":0.005},{"t":5746.449,"f":0.9967,"r":-0.0033},{"t":5746.451,"f":0.9911,"r":-0.0089},{"t":5746.453,"f":1.0036,"r":0.0036},
{"t":5746.455,"f":0.9982,"r":-0.001},{"t":5746.457,"f":0.9999,"r":0.0014},{"t":5746.459,"f":0.9935,"r":-0.0043},{"t":5746.461,"f":1.0041,"r":0.007},{"t":5746.463,"f":0.9947,"r":-0.0017},{"t":5746.465,"f":0.9902,"r":-0.0055},{"t":5746.467,"f":0.9977,"r":0.0027},{"t":5746.469,"f":0.9939,"r":-0.0004},{"t":5746.471,"f":0.9978,"r":0.0042},{"t":5746.473,"f":0.9899,"r":-0.003},
{"t":5746.475,"f":0.9931,"r":0.0009},{"t":5746.477,"f":0.9851,"r":-0.0064},{"t":5746.479,"f":0.9941,"r":0.0033},{"t":5746.481,"f":0.988,"r":-0.0021},{"t":5746.483,"f":0.9952,"r":0.0058},{"t":5746.485,"f":0.9848,"r":-0.0039},{"t":5746.487,"f":0.9872,"r":-0.0008},{"t":5746.489,"f":0.99,"r":0.0022},{"t":5746.491,"f":0.983,"r":-0.0047},{"t":5746.493,"f":0.988,"r":0.0004},
{"t":5746.495,"f":0.9804,"r":-0.0071},{"t":5746.497,"f":0.9922,"r":0.0047},{"t":5746.499,"f":0.986,"r":-0.0014},{"t":5746.501,"f":0.9839,"r":-0.0035},{"t":5746.503,"f":0.9889,"r":0.0016},{"t":5746.505,"f":0.9813,"r":-0.006},{"t":5746.507,"f":0.9911,"r":0.0038},{"t":5746.509,"f":0.9847,"r":-0.0025},{"t":5746.511,"f":0.9951,"r":0.0079},{"t":5746.513,"f":0.9861,"r":-0.0011},
{"t":5746.515,"f":0.9822,"r":-0.005},{"t":5746.517,"f":0.9897,"r":0.0026},{"t":5746.519,"f":0.987,"r":-0.0001},{"t":5746.521,"f":0.9829,"r":-0.0042},{"t":5746.523,"f":0.9924,"r":0.0053},{"t":5746.525,"f":0.9853,"r":-0.0018},{"t":5746.527,"f":0.9836,"r":-0.0034},{"t":5746.529,"f":0.988,"r":0.001},{"t":5746.531,"f":0.9803,"r":-0.0067},{"t":5746.533,"f":0.99,"r":0.003},
{"t":5746.535,"f":0.9848,"r":-0.0022},{"t":5746.537,"f":0.9932,"r":0.0062},{"t":5746.539,"f":0.9825,"r":-0.0045},{"t":5746.541,"f":0.9862,"r":-0.0007},{"t":5746.543,"f":0.9846,"r":-0.0023},{"t":5746.545,"f":0.991,"r":0.0041},{"t":5746.547,"f":0.9812,"r":-0.0057},{"t":5746.549,"f":0.9861,"r":-0.0008},{"t":5746.551,"f":0.9881,"r":0.0012},{"t":5746.553,"f":0.9834,"r":-0.0035},
{"t":5746.555,"f":0.9934,"r":0.0066},{"t":5746.557,"f":0.9854,"r":-0.0014},{"t":5746.559,"f":0.9819,"r":-0.0049},{"t":5746.561,"f":0.9871,"r":0.0003},{"t":5746.563,"f":0.9896,"r":0.0028},{"t":5746.565,"f":0.9797,"r":-0.0071},{"t":5746.567,"f":0.9863,"r":-0.0005},{"t":5746.569,"f":0.9922,"r":0.0054},{"t":5746.571,"f":0.9838,"r":-0.003},{"t":5746.573,"f":0.9849,"r":-0.0018},
{"t":5746.575,"f":0.9876,"r":0.0009},{"t":5746.577,"f":0.9805,"r":-0.0062},{"t":5746.579,"f":0.9904,"r":0.0037},{"t":5746.581,"f":0.9823,"r":-0.0044},{"t":5746.583,"f":0.9856,"r":-0.0011},{"t":5746.585,"f":0.9887,"r":0.002},{"t":5746.587,"f":0.9784,"r":-0.0083},{"t":5746.589,"f":0.9914,"r":0.0047},{"t":5746.591,"f":0.9865,"r":-0.0002},{"t":5746.593,"f":0.9828,"r":-0.0039},
{"t":5746.595,"f":0.9882,"r":0.0015},{"t":5746.597,"f":0.9841,"r":-0.0026},{"t":5746.599,"f":0.9939,"r":0.0072},{"t":5746.601,"f":0.9814,"r":-0.0053},{"t":5746.603,"f":0.9873,"r":0.0006},{"t":5746.605,"f":0.9836,"r":-0.0031},{"t":5746.607,"f":0.9821,"r":-0.0046},{"t":5746.609,"f":0.99,"r":0.0033},{"t":5746.611,"f":0.9848,"r":-0.0019},{"t":5746.613,"f":0.9925,"r":0.0058},
{"t":5746.615,"f":0.98,"r":-0.0067},{"t":5746.617,"f":0.9863,"r":-0.0004},{"t":5746.619,"f":0.9891,"r":0.0024},{"t":5746.621,"f":0.9829,"r":-0.0038},{"t":5746.623,"f":0.9775,"r":-0.0092},{"t":5746.625,"f":0.9878,"r":0.0011},{"t":5746.627,"f":0.9852,"r":-0.0015},{"t":5746.629,"f":0.9911,"r":0.0044},{"t":5746.631,"f":0.9839,"r":-0.0028},{"t":5746.633,"f":0.986,"r":-0.0007},
{"t":5746.635,"f":0.993,"r":0.0063},{"t":5746.637,"f":0.9826,"r":-0.0041},{"t":5746.639,"f":0.9886,"r":0.0019},{"t":5746.641,"f":0.9812,"r":-0.0055},{"t":5746.643,"f":0.9902,"r":0.0035},{"t":5746.645,"f":0.9855,"r":-0.0012},{"t":5746.647,"f":0.9793,"r":-0.0074},{"t":5746.649,"f":0.9875,"r":0.0008},{"t":5746.651,"f":0.9917,"r":0.005},{"t":5746.653,"f":0.9834,"r":-0.0033},
{"t":5746.655,"f":0.9846,"r":-0.0021},{"t":5746.657,"f":0.9894,"r":0.0027},{"t":5746.659,"f":0.9807,"r":-0.006},{"t":5746.661,"f":0.9869,"r":0.0002},{"t":5746.663,"f":0.985,"r":-0.0017},{"t":5746.665,"f":0.9936,"r":0.0069},{"t":5746.667,"f":0.9822,"r":-0.0045},{"t":5746.669,"f":0.9858,"r":-0.0009},{"t":5746.671,"f":0.9905,"r":0.0038},{"t":5746.673,"f":0.9841,"r":-0.0026},
{"t":5746.675,"f":0.9788,"r":-0.008},{"t":5746.677,"f":0.9882,"r":0.0014},{"t":5746.679,"f":0.9832,"r":-0.0036},{"t":5746.681,"f":0.9921,"r":0.0053},{"t":5746.683,"f":0.9865,"r":-0.0003},{"t":5746.685,"f":0.982,"r":-0.0048},{"t":5746.687,"f":0.989,"r":0.0022},{"t":5746.689,"f":0.9803,"r":-0.0065},{"t":5746.691,"f":0.9899,"r":0.0031},{"t":5746.693,"f":0.9855,"r":-0.0013},
{"t":5746.695,"f":0.9957,"r":0.0088},{"t":5746.697,"f":0.984,"r":-0.0029},{"t":5746.699,"f":0.9817,"r":-0.0052},{"t":5746.701,"f":0.9876,"r":0.0007},{"t":5746.703,"f":0.9914,"r":0.0045},{"t":5746.705,"f":0.9849,"r":-0.002},{"t":5746.707,"f":0.9832,"r":-0.0037},{"t":5746.709,"f":0.9886,"r":0.0016},{"t":5746.711,"f":0.98,"r":-0.007},{"t":5746.713,"f":0.9929,"r":0.0059},
{"t":5746.715,"f":0.9864,"r":-0.0006},{"t":5746.717,"f":0.9827,"r":-0.0043},{"t":5746.719,"f":0.9895,"r":0.0025},{"t":5746.721,"f":0.9855,"r":-0.0016},{"t":5746.723,"f":0.9813,"r":-0.0058},{"t":5746.725,"f":0.9907,"r":0.0036},{"t":5746.727,"f":0.9847,"r":-0.0024},{"t":5746.729,"f":0.9875,"r":0.0004},{"t":5746.731,"f":0.9948,"r":0.0077},{"t":5746.733,"f":0.9838,"r":-0.0034},
{"t":5746.735,"f":0.9862,"r":-0.001},{"t":5746.737,"f":0.992,"r":0.0048},{"t":5746.739,"f":0.9809,"r":-0.0063},{"t":5746.741,"f":0.9872,"r":-0.0001},{"t":5746.743,"f":0.9894,"r":0.0021},{"t":5746.745,"f":0.9826,"r":-0.0047},{"t":5746.747,"f":0.9884,"r":0.001},{"t":5746.749,"f":0.9843,"r":-0.0031},{"t":5746.751,"f":0.9939,"r":0.0064},{"t":5746.753,"f":0.9853,"r":-0.0022},
{"t":5746.755,"f":0.9791,"r":-0.0085},{"t":5746.757,"f":0.9908,"r":0.003},{"t":5746.759,"f":0.9876,"r":-0.0008},{"t":5746.761,"f":0.9933,"r":0.0042},{"t":5746.763,"f":0.9859,"r":-0.0039},{"t":5746.765,"f":0.9906,"r":0.0001},{"t":5746.767,"f":0.9856,"r":-0.0056},{"t":5746.769,"f":0.9971,"r":0.0052},{"t":5746.771,"f":0.9899,"r":-0.0027},{"t":5746.773,"f":0.9919,"r":-0.0014},
{"t":5746.775,"f":0.9974,"r":0.0034},{"t":5746.777,"f":0.9879,"r":-0.0068},{"t":5746.779,"f":0.9971,"r":0.0017},{"t":5746.781,"f":0.9956,"r":-0.0005},{"t":5746.783,"f":1.0028,"r":0.006},{"t":5746.785,"f":0.9934,"r":-0.0042},{"t":5746.787,"f":0.9965,"r":-0.0018},{"t":5746.789,"f":1.0016,"r":0.0026},{"t":5746.791,"f":0.9945,"r":-0.0051},{"t":5746.793,"f":1.0009,"r":0.0009},
{"t":5746.795,"f":0.9967,"r":-0.0033},{"t":5746.797,"f":1.0071,"r":0.0071},{"t":5746.799,"f":0.9975,"r":-0.0025},{"t":5746.801,"f":0.9939,"r":-0.0061},{"t":5746.803,"f":1.0013,"r":0.0013},{"t":5746.805,"f":0.9996,"r":-0.0004},{"t":5746.807,"f":1.0046,"r":0.0046},{"t":5746.809,"f":0.9963,"r":-0.0037},{"t":5746.811,"f":0.9904,"r":-0.0096},{"t":5746.813,"f":1.0023,"r":0.0023},
{"t":5746.815,"f":0.9989,"r":-0.0011},{"t":5746.817,"f":1.0039,"r":0.0039},{"t":5746.819,"f":0.995,"r":-0.005},{"t":5746.821,"f":1.0005,"r":0.0005},{"t":5746.823,"f":0.9971,"r":-0.0029},{"t":5746.825,"f":1.0057,"r":0.0057},{"t":5746.827,"f":0.9985,"r":-0.0015},{"t":5746.829,"f":0.9956,"r":-0.0044},{"t":5746.831,"f":1.0018,"r":0.0018},{"t":5746.833,"f":0.9927,"r":-0.0073},
{"t":5746.835,"f":1.0032,"r":0.0032},{"t":5746.837,"f":0.9993,"r":-0.0007},{"t":5746.839,"f":1.0065,"r":0.0065},{"t":5746.841,"f":0.996,"r":-0.004},{"t":5746.843,"f":0.9998,"r":-0.0002},{"t":5746.845,"f":1.0029,"r":0.0029},{"t":5746.847,"f":0.9941,"r":-0.0059},{"t":5746.849,"f":1.0043,"r":0.0043},{"t":5746.851,"f":0.9979,"r":-0.0021},{"t":5746.853,"f":0.9965,"r":-0.0035},
{"t":5746.855,"f":1.0074,"r":0.0074},{"t":5746.857,"f":0.9988,"r":-0.0012},{"t":5746.859,"f":0.9953,"r":-0.0047},{"t":5746.861,"f":1.0011,"r":0.0011},{"t":5746.863,"f":1.0037,"r":0.0037},{"t":5746.865,"f":0.9934,"r":-0.0066},{"t":5746.867,"f":0.9991,"r":-0.0009},{"t":5746.869,"f":1.002,"r":0.002}
],
"mL":[{"t":5365.27,"f":1.0},{"t":5365.359,"f":1.0},{"t":5365.372,"f":0.9939},{"t":5365.383,"f":0.9887},{"t":5365.388,"f":0.9864},{"t":5365.393,"f":0.9859},{"t":5365.405,"f":0.98555},{"t":5365.42,"f":0.98525},{"t":5365.44,"f":0.98495},{"t":5365.47,"f":0.98472},{"t":5365.5,"f":0.98462},{"t":5365.527,"f":0.9846},{"t":5365.555,"f":0.98462},{"t":5365.585,"f":0.98472},{"t":5365.615,"f":0.98495},{"t":5365.635,"f":0.98525},{"t":5365.65,"f":0.98555},{"t":5365.661,"f":0.9859},{"t":5365.666,"f":0.9864},{"t":5365.671,"f":0.9887},{"t":5365.682,"f":0.9939},{"t":5365.696,"f":1.0},{"t":5365.77,"f":1.0}],
"mR":[{"t":5746.373,"f":1.0},{"t":5746.453,"f":1.0},{"t":5746.466,"f":0.99544},{"t":5746.478,"f":0.99123},{"t":5746.4875,"f":0.9878},{"t":5746.493,"f":0.98755},{"t":5746.505,"f":0.98728},{"t":5746.525,"f":0.98703},{"t":5746.55,"f":0.98685},{"t":5746.585,"f":0.98672},{"t":5746.6225,"f":0.98667},{"t":5746.66,"f":0.98672},{"t":5746.695,"f":0.98685},{"t":5746.72,"f":0.98703},{"t":5746.74,"f":0.98728},{"t":5746.752,"f":0.98755},{"t":5746.7575,"f":0.9878},{"t":5746.767,"f":0.99116},{"t":5746.779,"f":0.9954},{"t":5746.792,"f":1.0},{"t":5746.869,"f":1.0}],
"zL":[{"t":5365.27,"r":0},{"t":5365.77,"r":0}],
"zR":[{"t":5746.373,"r":0},{"t":5746.869,"r":0}]
},
"columns":2,
"spacing":{"row":0,"column":26},
"bounds":"flush",
"concat":[
{"width":165,"height":213,"resolve":{"axis":{"x":"independent","y":"independent"}},
"layer":[
{"data":{"name":"LA"},"mark":{"type":"square","size":3,"color":"#000","opacity":1,"strokeWidth":0,"clip":true},
"encoding":{"x":{"field":"t","type":"quantitative","scale":{"domain":[5365.27,5365.77],"nice":false,"zero":false},"axis":{"orient":"bottom","values":[5365.3,5365.4,5365.5,5365.6,5365.7],"labels":false,"tickSize":-5,"title":null}},
"y":{"field":"f","type":"quantitative","scale":{"domain":[0.97,1.01],"nice":false,"zero":false},"axis":{"orient":"left","values":[0.98,0.99,1.0],"format":".2f","tickSize":-5,"labelPadding":10,"title":"Relative Flux","titleX":-36.5,"titleY":118,"titleAngle":270,"titleAlign":"center","titleBaseline":"middle"}}}},
{"data":{"name":"LB"},"mark":{"type":"square","size":3,"color":"#000","opacity":1,"strokeWidth":0,"clip":true},
"encoding":{"x":{"field":"t","type":"quantitative","scale":{"domain":[5365.27,5365.77],"nice":false,"zero":false},"axis":{"orient":"top","values":[5365.3,5365.4,5365.5,5365.6,5365.7],"labels":false,"tickSize":-5,"title":null}},
"y":{"field":"f","type":"quantitative","scale":{"domain":[0.97,1.01],"nice":false,"zero":false},"axis":{"orient":"right","values":[0.98,0.99,1.0],"labels":false,"tickSize":-5,"title":null}}}},
{"data":{"name":"LX"},"mark":{"type":"square","size":3,"color":"#c99a9a","opacity":1,"strokeWidth":0,"clip":true},
"encoding":{"x":{"field":"t","type":"quantitative","scale":{"domain":[5365.27,5365.77],"nice":false,"zero":false},"axis":{"orient":"bottom","tickCount":50,"labels":false,"tickSize":-2.5,"title":null}},
"y":{"field":"f","type":"quantitative","scale":{"domain":[0.97,1.01],"nice":false,"zero":false},"axis":{"orient":"left","tickCount":40,"labels":false,"tickSize":-2.5,"title":null}}}},
{"data":{"name":"mL"},"mark":{"type":"line","color":"#ff0000","strokeWidth":2,"clip":true},
"encoding":{"x":{"field":"t","type":"quantitative","scale":{"domain":[5365.27,5365.77],"nice":false,"zero":false},"axis":{"orient":"top","tickCount":50,"labels":false,"tickSize":-2.5,"title":null}},
"y":{"field":"f","type":"quantitative","scale":{"domain":[0.97,1.01],"nice":false,"zero":false},"axis":{"orient":"right","tickCount":40,"labels":false,"tickSize":-2.5,"title":null}}}}
]},
{"width":165,"height":213,"resolve":{"axis":{"x":"independent","y":"independent"}},
"layer":[
{"data":{"name":"RA"},"mark":{"type":"square","size":3,"color":"#000","opacity":1,"strokeWidth":0,"clip":true},
"encoding":{"x":{"field":"t","type":"quantitative","scale":{"domain":[5746.373,5746.869],"nice":false,"zero":false},"axis":{"orient":"bottom","values":[5746.4,5746.5,5746.6,5746.7,5746.8],"labels":false,"tickSize":-5,"title":null}},
"y":{"field":"f","type":"quantitative","scale":{"domain":[0.97,1.01],"nice":false,"zero":false},"axis":{"orient":"left","values":[0.98,0.99,1.0],"labels":false,"tickSize":-5,"title":null}}}},
{"data":{"name":"RB"},"mark":{"type":"square","size":3,"color":"#000","opacity":1,"strokeWidth":0,"clip":true},
"encoding":{"x":{"field":"t","type":"quantitative","scale":{"domain":[5746.373,5746.869],"nice":false,"zero":false},"axis":{"orient":"top","values":[5746.4,5746.5,5746.6,5746.7,5746.8],"labels":false,"tickSize":-5,"title":null}},
"y":{"field":"f","type":"quantitative","scale":{"domain":[0.97,1.01],"nice":false,"zero":false},"axis":{"orient":"right","values":[0.98,0.99,1.0],"labels":false,"tickSize":-5,"title":null}}}},
{"data":{"name":"mR"},"mark":{"type":"line","color":"#ff0000","strokeWidth":2,"strokeOpacity":0,"clip":true},
"encoding":{"x":{"field":"t","type":"quantitative","scale":{"domain":[5746.373,5746.869],"nice":false,"zero":false},"axis":{"orient":"bottom","tickCount":50,"labels":false,"tickSize":-2.5,"title":null}},
"y":{"field":"f","type":"quantitative","scale":{"domain":[0.97,1.01],"nice":false,"zero":false},"axis":{"orient":"left","tickCount":40,"labels":false,"tickSize":-2.5,"title":null}}}},
{"data":{"name":"mR"},"mark":{"type":"line","color":"#ff0000","strokeWidth":2,"clip":true},
"encoding":{"x":{"field":"t","type":"quantitative","scale":{"domain":[5746.373,5746.869],"nice":false,"zero":false},"axis":{"orient":"top","tickCount":50,"labels":false,"tickSize":-2.5,"title":null}},
"y":{"field":"f","type":"quantitative","scale":{"domain":[0.97,1.01],"nice":false,"zero":false},"axis":{"orient":"right","tickCount":40,"labels":false,"tickSize":-2.5,"title":null}}}}
]},
{"width":165,"height":49,"resolve":{"axis":{"x":"independent","y":"independent"}},
"layer":[
{"data":{"name":"LA"},"mark":{"type":"square","size":3,"color":"#000","opacity":1,"strokeWidth":0,"clip":true},
"encoding":{"x":{"field":"t","type":"quantitative","scale":{"domain":[5365.27,5365.77],"nice":false,"zero":false},"axis":{"orient":"bottom","values":[5365.3,5365.4,5365.5,5365.6,5365.7],"format":".1f","tickSize":-5,"labelPadding":14,"labelBaseline":"middle","title":"Time (BJD_tdb−2450000)","titleY":19,"titleBaseline":"middle"}},
"y":{"field":"r","type":"quantitative","scale":{"domain":[-0.0125,0.0125],"nice":false,"zero":false},"axis":{"orient":"left","values":[-0.01,-0.005,0,0.005,0.01],"format":".3f","tickSize":-5,"labelPadding":7,"title":"Residuals","titleX":-39,"titleY":24.5,"titleAngle":270,"titleAlign":"center","titleBaseline":"middle"}}}},
{"data":{"name":"LB"},"mark":{"type":"square","size":3,"color":"#000","opacity":1,"strokeWidth":0,"clip":true},
"encoding":{"x":{"field":"t","type":"quantitative","scale":{"domain":[5365.27,5365.77],"nice":false,"zero":false},"axis":{"orient":"top","values":[5365.3,5365.4,5365.5,5365.6,5365.7],"labels":false,"tickSize":-5,"title":null}},
"y":{"field":"r","type":"quantitative","scale":{"domain":[-0.0125,0.0125],"nice":false,"zero":false},"axis":{"orient":"right","values":[-0.01,-0.005,0,0.005,0.01],"labels":false,"tickSize":-5,"title":null}}}},
{"data":{"name":"LX"},"mark":{"type":"square","size":3,"color":"#c99a9a","opacity":1,"strokeWidth":0,"clip":true},
"encoding":{"x":{"field":"t","type":"quantitative","scale":{"domain":[5365.27,5365.77],"nice":false,"zero":false},"axis":{"orient":"bottom","tickCount":50,"labels":false,"tickSize":-2.5,"title":null}},
"y":{"field":"r","type":"quantitative","scale":{"domain":[-0.0125,0.0125],"nice":false,"zero":false},"axis":{"orient":"left","tickCount":25,"labels":false,"tickSize":-2.5,"title":null}}}},
{"data":{"name":"zL"},"mark":{"type":"line","color":"#ff0000","strokeWidth":2,"clip":true},
"encoding":{"x":{"field":"t","type":"quantitative","scale":{"domain":[5365.27,5365.77],"nice":false,"zero":false},"axis":{"orient":"top","tickCount":50,"labels":false,"tickSize":-2.5,"title":null}},
"y":{"field":"r","type":"quantitative","scale":{"domain":[-0.0125,0.0125],"nice":false,"zero":false},"axis":{"orient":"right","tickCount":25,"labels":false,"tickSize":-2.5,"title":null}}}}
]},
{"width":165,"height":49,"resolve":{"axis":{"x":"independent","y":"independent"}},
"layer":[
{"data":{"name":"RA"},"mark":{"type":"square","size":3,"color":"#000","opacity":1,"strokeWidth":0,"clip":true},
"encoding":{"x":{"field":"t","type":"quantitative","scale":{"domain":[5746.373,5746.869],"nice":false,"zero":false},"axis":{"orient":"bottom","values":[5746.4,5746.5,5746.6,5746.7,5746.8],"format":".1f","tickSize":-5,"labelPadding":14,"labelBaseline":"middle","title":"Time (BJD_tdb−2450000)","titleY":19,"titleBaseline":"middle"}},
"y":{"field":"r","type":"quantitative","scale":{"domain":[-0.0125,0.0125],"nice":false,"zero":false},"axis":{"orient":"left","values":[-0.01,-0.005,0,0.005,0.01],"labels":false,"tickSize":-5,"title":null}}}},
{"data":{"name":"RB"},"mark":{"type":"square","size":3,"color":"#000","opacity":1,"strokeWidth":0,"clip":true},
"encoding":{"x":{"field":"t","type":"quantitative","scale":{"domain":[5746.373,5746.869],"nice":false,"zero":false},"axis":{"orient":"top","values":[5746.4,5746.5,5746.6,5746.7,5746.8],"labels":false,"tickSize":-5,"title":null}},
"y":{"field":"r","type":"quantitative","scale":{"domain":[-0.0125,0.0125],"nice":false,"zero":false},"axis":{"orient":"right","values":[-0.01,-0.005,0,0.005,0.01],"labels":false,"tickSize":-5,"title":null}}}},
{"data":{"name":"zR"},"mark":{"type":"line","color":"#ff0000","strokeWidth":2,"strokeOpacity":0,"clip":true},
"encoding":{"x":{"field":"t","type":"quantitative","scale":{"domain":[5746.373,5746.869],"nice":false,"zero":false},"axis":{"orient":"bottom","tickCount":50,"labels":false,"tickSize":-2.5,"title":null}},
"y":{"field":"r","type":"quantitative","scale":{"domain":[-0.0125,0.0125],"nice":false,"zero":false},"axis":{"orient":"left","tickCount":25,"labels":false,"tickSize":-2.5,"title":null}}}},
{"data":{"name":"zR"},"mark":{"type":"line","color":"#ff0000","strokeWidth":2,"clip":true},
"encoding":{"x":{"field":"t","type":"quantitative","scale":{"domain":[5746.373,5746.869],"nice":false,"zero":false},"axis":{"orient":"top","tickCount":50,"labels":false,"tickSize":-2.5,"title":null}},
"y":{"field":"r","type":"quantitative","scale":{"domain":[-0.0125,0.0125],"nice":false,"zero":false},"axis":{"orient":"right","tickCount":25,"labels":false,"tickSize":-2.5,"title":null}}}}
]}
]
}
